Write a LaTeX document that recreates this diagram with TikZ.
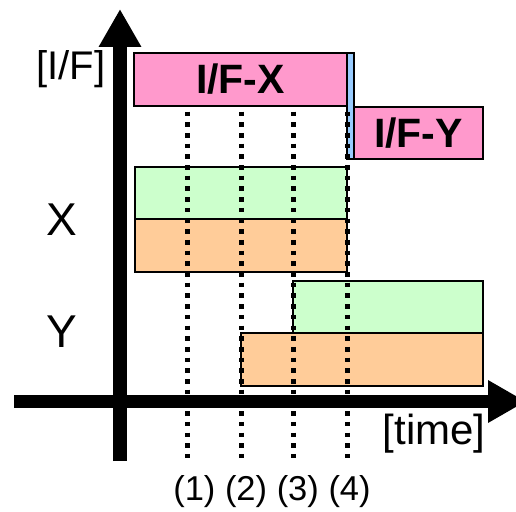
\documentclass[tikz,border=0pt]{standalone}
\usepackage{fontspec}
\setmainfont{Liberation Sans}
\usepackage{xcolor}
\usetikzlibrary{arrows.meta, positioning}
\definecolor{ifpink}{HTML}{FF99CC}
\definecolor{swblue}{HTML}{99CCFF}
\definecolor{actgreen}{HTML}{CCFFCC}
\definecolor{sbyorange}{HTML}{FFCC99}
\tikzset{
  ifbox/.style    = {rectangle, draw, line width=1.5pt, fill=ifpink,
                     inner sep=0pt, outer sep=0pt,
                     font=\fontsize{41}{48}\selectfont\bfseries},
  swbar/.style    = {rectangle, draw, line width=1.5pt, fill=swblue,
                     inner sep=0pt, outer sep=0pt, minimum width=7pt},
  actbox/.style   = {rectangle, draw, line width=1.5pt, fill=actgreen,
                     inner sep=0pt, outer sep=0pt, minimum height=52pt},
  sbybox/.style   = {rectangle, draw, line width=1.5pt, fill=sbyorange,
                     inner sep=0pt, outer sep=0pt, minimum height=53pt},
  axis/.style     = {line width=13.5pt,
                     -{Triangle[length=38pt, width=40pt]}},
  marker/.style   = {line width=5pt, dash pattern=on 4.6pt off 6.1pt},
  lbl/.style      = {inner sep=0pt, font=\fontsize{40}{48}\selectfont},
}
\begin{document}
\begin{tikzpicture}[x=1pt, y=-1pt]
  \useasboundingbox (0,0) rectangle (516,511);
  \clip (0,0) rectangle (516,511);
  % interface boxes
  \node[ifbox, minimum width=213pt, minimum height=53pt, anchor=north west]
       (ifx) at (134,53) {I/F-X};
  \node[swbar, minimum height=106pt, anchor=north west] (sw) at (ifx.north east) {};
  \node[ifbox, minimum width=129pt, minimum height=52pt, anchor=south west]
       (ify) at (sw.south east) {I/F-Y};
  % X and Y
  \node[actbox, minimum width=212pt, anchor=north west] (xact) at (135,167) {};
  \node[sbybox, minimum width=212pt, below=0pt of xact] (xsby) {};
  \node[actbox, minimum width=190pt, anchor=north west] (yact) at (293,281) {};
  \node[sbybox, minimum width=242pt, anchor=north east] (ysby) at (yact.south east) {};
  % time marks
  \foreach \x [count=\i] in {187,241,293,347} {
    \coordinate (m\i top) at (\x,111.5);
    \coordinate (m\i bot) at (\x,458);
    \draw[marker] (m\i top) -- (m\i bot);
  }
  % axes
  \coordinate (ybot) at (120,461);
  \coordinate (ytop) at (120,9);
  \coordinate (xleft) at (14,401.5);
  \coordinate (xright) at (526,401.5);
  \draw[axis] (ybot) -- (ytop);
  \draw[axis] (xleft) -- (xright);
  % labels
  \node[lbl] (iflbl) at (71,69) {[I/F]};
  \node[lbl, font=\fontsize{46}{52}\selectfont] (xlbl) at (62,220) {X};
  \node[lbl, font=\fontsize{46}{52}\selectfont] (ylbl) at (62,332) {Y};
  \node[lbl, font=\fontsize{42}{48}\selectfont] (tlbl) at (434,433.5) {[time]};
  \node[lbl, font=\fontsize{34.5}{40}\selectfont] (mlbl) at (272,492) {(1) (2) (3) (4)};
\end{tikzpicture}
\end{document}
